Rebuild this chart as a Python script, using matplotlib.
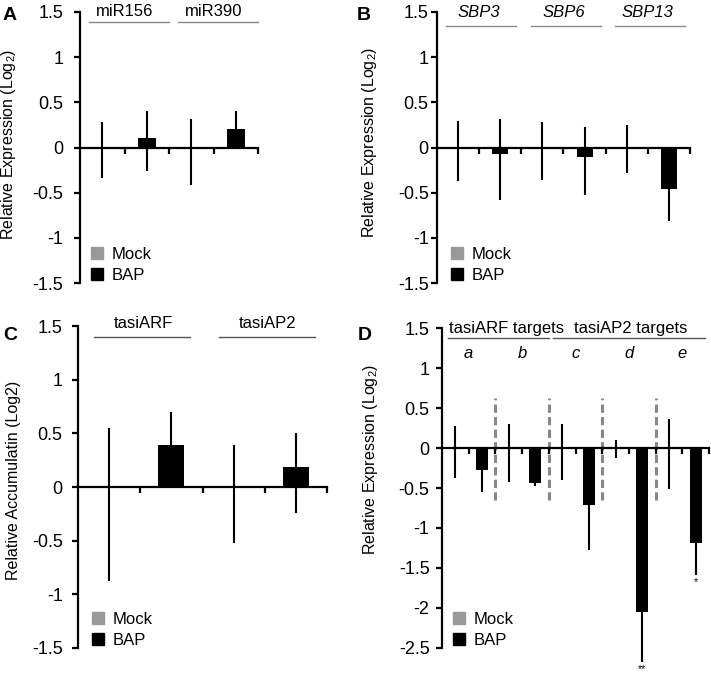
import matplotlib
matplotlib.use('Agg')
import matplotlib.pyplot as plt
import numpy as np
from matplotlib.patches import Patch

plt.rcParams['font.family'] = ['Liberation Sans', 'DejaVu Sans']
plt.rcParams['axes.unicode_minus'] = False
plt.rcParams['mathtext.fontset'] = 'custom'
plt.rcParams['mathtext.rm'] = 'Liberation Sans'

# panel A - miRNA expression
a_groups = ['miR156', 'miR390']
a_mock = [0, 0]
a_mock_lo = [-0.34, -0.41]
a_mock_hi = [0.28, 0.32]
a_bap = [0.11, 0.21]
a_bap_lo = [-0.26, 0.02]
a_bap_hi = [0.40, 0.40]

# panel B - SBP genes
b_groups = ['SBP3', 'SBP6', 'SBP13']
b_mock = [0, 0, 0]
b_mock_lo = [-0.37, -0.36, -0.28]
b_mock_hi = [0.29, 0.28, 0.25]
b_bap = [-0.07, -0.10, -0.46]
b_bap_lo = [-0.58, -0.53, -0.81]
b_bap_hi = [0.31, 0.23, -0.11]

# panel C - tasiRNA accumulation
c_groups = ['tasiARF', 'tasiAP2']
c_mock = [0, 0]
c_mock_lo = [-0.88, -0.52]
c_mock_hi = [0.55, 0.39]
c_bap = [0.39, 0.19]
c_bap_lo = [0.08, -0.24]
c_bap_hi = [0.70, 0.50]

# panel D - tasiRNA targets
d_groups = ['a', 'b', 'c', 'd', 'e']
d_mock = [0, 0, 0, 0, 0]
d_mock_lo = [-0.38, -0.42, -0.40, -0.13, -0.51]
d_mock_hi = [0.28, 0.30, 0.30, 0.10, 0.36]
d_bap = [-0.28, -0.44, -0.71, -2.05, -1.19]
d_bap_lo = [-0.55, -0.47, -1.28, -2.68, -1.59]
d_bap_hi = [-0.01, -0.41, -0.14, -1.42, -0.79]
d_stars = ['', '', '', '**', '*']

MOCK = '#999999'


def draw_panel(ax, mock, mock_lo, mock_hi, bap, bap_lo, bap_hi, ylim, width, pad):
    n = len(mock)
    xm = np.arange(n) * 2 + 0.5
    xb = np.arange(n) * 2 + 1.5
    mock = np.array(mock); bap = np.array(bap)
    ax.bar(xm, mock, width, color=MOCK, zorder=2)
    ax.bar(xb, bap, width, color='black', zorder=2)
    for x, m, lo, hi in [(xm, mock, mock_lo, mock_hi), (xb, bap, bap_lo, bap_hi)]:
        eb = ax.errorbar(x, m, yerr=[m - np.array(lo), np.array(hi) - m],
                         fmt='none', ecolor='black', elinewidth=1.5, capsize=0, zorder=3)
        for c in eb.lines[2]:
            c.set_clip_on(False)
    ax.set_xlim(0, 2 * n)
    ax.set_ylim(*ylim)
    ax.spines['top'].set_visible(False)
    ax.spines['right'].set_visible(False)
    ax.spines['bottom'].set_position(('data', 0))
    ax.spines['left'].set_linewidth(1.6)
    ax.spines['bottom'].set_linewidth(1.6)
    ax.set_xticks(np.arange(1, 2 * n + 1))
    ax.tick_params(axis='x', direction='out', length=4, width=1.6, labelbottom=False)
    yt = np.arange(ylim[0], ylim[1] + 0.01, 0.5)
    ax.set_yticks(yt)
    ax.set_yticklabels(['%g' % v for v in yt])
    ax.tick_params(axis='y', direction='out', length=4, width=1.6, labelsize=13, pad=pad)
    handles = [Patch(color=MOCK, label='Mock'), Patch(color='black', label='BAP')]
    return handles


def add_legend(ax, h, x):
    ax.legend(handles=h, loc='lower left', bbox_to_anchor=(x, 0.0), frameon=False,
              handlelength=0.75, handleheight=0.75, handletextpad=0.5, labelspacing=0.35,
              fontsize=12, borderaxespad=0, borderpad=0)


fig = plt.figure(figsize=(7.11, 6.73), dpi=100)

# A
axA = fig.add_axes([80/711, 1 - 283/673, 178/711, 271/673])
h = draw_panel(axA, a_mock, a_mock_lo, a_mock_hi, a_bap, a_bap_lo, a_bap_hi, (-1.5, 1.5), 0.4, 8)
for i, g in enumerate(a_groups):
    axA.plot([2*i + 0.2, 2*i + 2.0], [1.39, 1.39], color='#888888', lw=1, clip_on=False)
    axA.text(2*i + 1.0, 1.51, g, ha='center', va='center', fontsize=12)
axA.set_ylabel('Relative Expression (Log$_2$)', fontsize=11.5, va='center')
axA.yaxis.set_label_coords(-0.40, 0.51)
add_legend(axA, h, 0.06)

# B
axB = fig.add_axes([437/711, 1 - 283/673, 253/711, 271/673])
h = draw_panel(axB, b_mock, b_mock_lo, b_mock_hi, b_bap, b_bap_lo, b_bap_hi, (-1.5, 1.5), 0.38, 2)
for i, g in enumerate(b_groups):
    axB.plot([2*i + 0.22, 2*i + 1.88], [1.35, 1.35], color='#888888', lw=1, clip_on=False)
    axB.text(2*i + 1.0, 1.49, g, ha='center', va='center', fontsize=12, style='italic')
axB.set_ylabel('Relative Expression (Log$_2$)', fontsize=11.5, va='center')
axB.yaxis.set_label_coords(-0.265, 0.52)
add_legend(axB, h, 0.055)

# C
axC = fig.add_axes([78/711, 1 - 648/673, 249/711, 322/673])
h = draw_panel(axC, c_mock, c_mock_lo, c_mock_hi, c_bap, c_bap_lo, c_bap_hi, (-1.5, 1.5), 0.42, 7)
for i, g in enumerate(c_groups):
    axC.plot([2*i + 0.26, 2*i + 1.8], [1.40, 1.40], color='#555555', lw=1, clip_on=False)
    axC.text(2*i + 1.05, 1.52, g, ha='center', va='center', fontsize=12)
axC.set_ylabel('Relative Accumulatin (Log2)', fontsize=11.5, va='center')
axC.yaxis.set_label_coords(-0.26, 0.52)
add_legend(axC, h, 0.055)

# D
axD = fig.add_axes([442/711, 1 - 648/673, 267/711, 320/673])
h = draw_panel(axD, d_mock, d_mock_lo, d_mock_hi, d_bap, d_bap_lo, d_bap_hi, (-2.5, 1.5), 0.45, 5)
axD.vlines([2, 4, 6, 8], -0.65, 0.63, colors='#888888', linestyles=(0, (2.7, 1.4)), lw=2.2, zorder=1)
for i, g in enumerate(d_groups):
    axD.text(2*i + 1.0, 1.18, g, ha='center', va='center', fontsize=12, style='italic')
    if d_stars[i]:
        axD.annotate(d_stars[i], xy=(2*i + 1.5, d_bap_lo[i]), xytext=(0, -1),
                     textcoords='offset points', ha='center', va='top',
                     fontsize=7.5, annotation_clip=False)
axD.plot([0.22, 4.0], [1.375, 1.375], color='#555555', lw=1, clip_on=False)
axD.plot([4.16, 9.85], [1.375, 1.375], color='#555555', lw=1, clip_on=False)
axD.text(2.4, 1.5, 'tasiARF targets', ha='center', va='center', fontsize=12)
axD.text(7.05, 1.5, 'tasiAP2 targets', ha='center', va='center', fontsize=12)
axD.set_ylabel('Relative Expression (Log$_2$)', fontsize=11.5, va='center')
axD.yaxis.set_label_coords(-0.266, 0.59)
add_legend(axD, h, 0.04)

# panel letters
for x, y, s in [(3, 7, 'A'), (357, 7, 'B'), (3, 327, 'C'), (358, 327, 'D')]:
    fig.text(x/711, 1 - y/673, s, fontsize=14, fontweight='bold', ha='left', va='top')

plt.savefig('out.png', dpi=100)
